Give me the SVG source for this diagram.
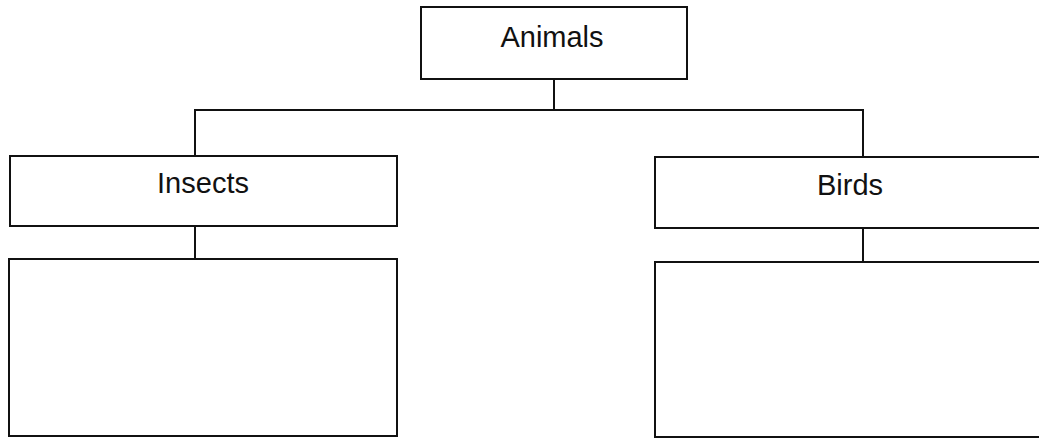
<svg xmlns="http://www.w3.org/2000/svg" width="1039" height="439" viewBox="0 0 1039 439">
<style>
.box{fill:#fff;stroke:#111;stroke-width:2}
.lbl{font-family:"Liberation Sans",Arial,sans-serif;font-size:29px;fill:#111;text-anchor:middle}
.con{fill:none;stroke:#111;stroke-width:2}
</style>
<rect width="1039" height="439" fill="#fff"/>
<g id="connectors">
<path class="con" d="M554,79 V110"/>
<path class="con" d="M195,156 V110 H863 V157"/>
<path class="con" d="M195,226 V259"/>
<path class="con" d="M863,228 V262"/>
</g>
<g id="animals">
<rect class="box" x="421" y="7" width="266" height="72"/>
<text class="lbl" x="552" y="47">Animals</text>
</g>
<g id="insects">
<rect class="box" x="10" y="156" width="387" height="70"/>
<text class="lbl" x="203" y="193">Insects</text>
</g>
<g id="birds">
<rect class="box" x="655" y="157" width="390" height="71"/>
<text class="lbl" x="850" y="195">Birds</text>
</g>
<g id="insects-box">
<rect class="box" x="9" y="259" width="388" height="177"/>
</g>
<g id="birds-box">
<rect class="box" x="655" y="262" width="390" height="175"/>
</g>
</svg>
